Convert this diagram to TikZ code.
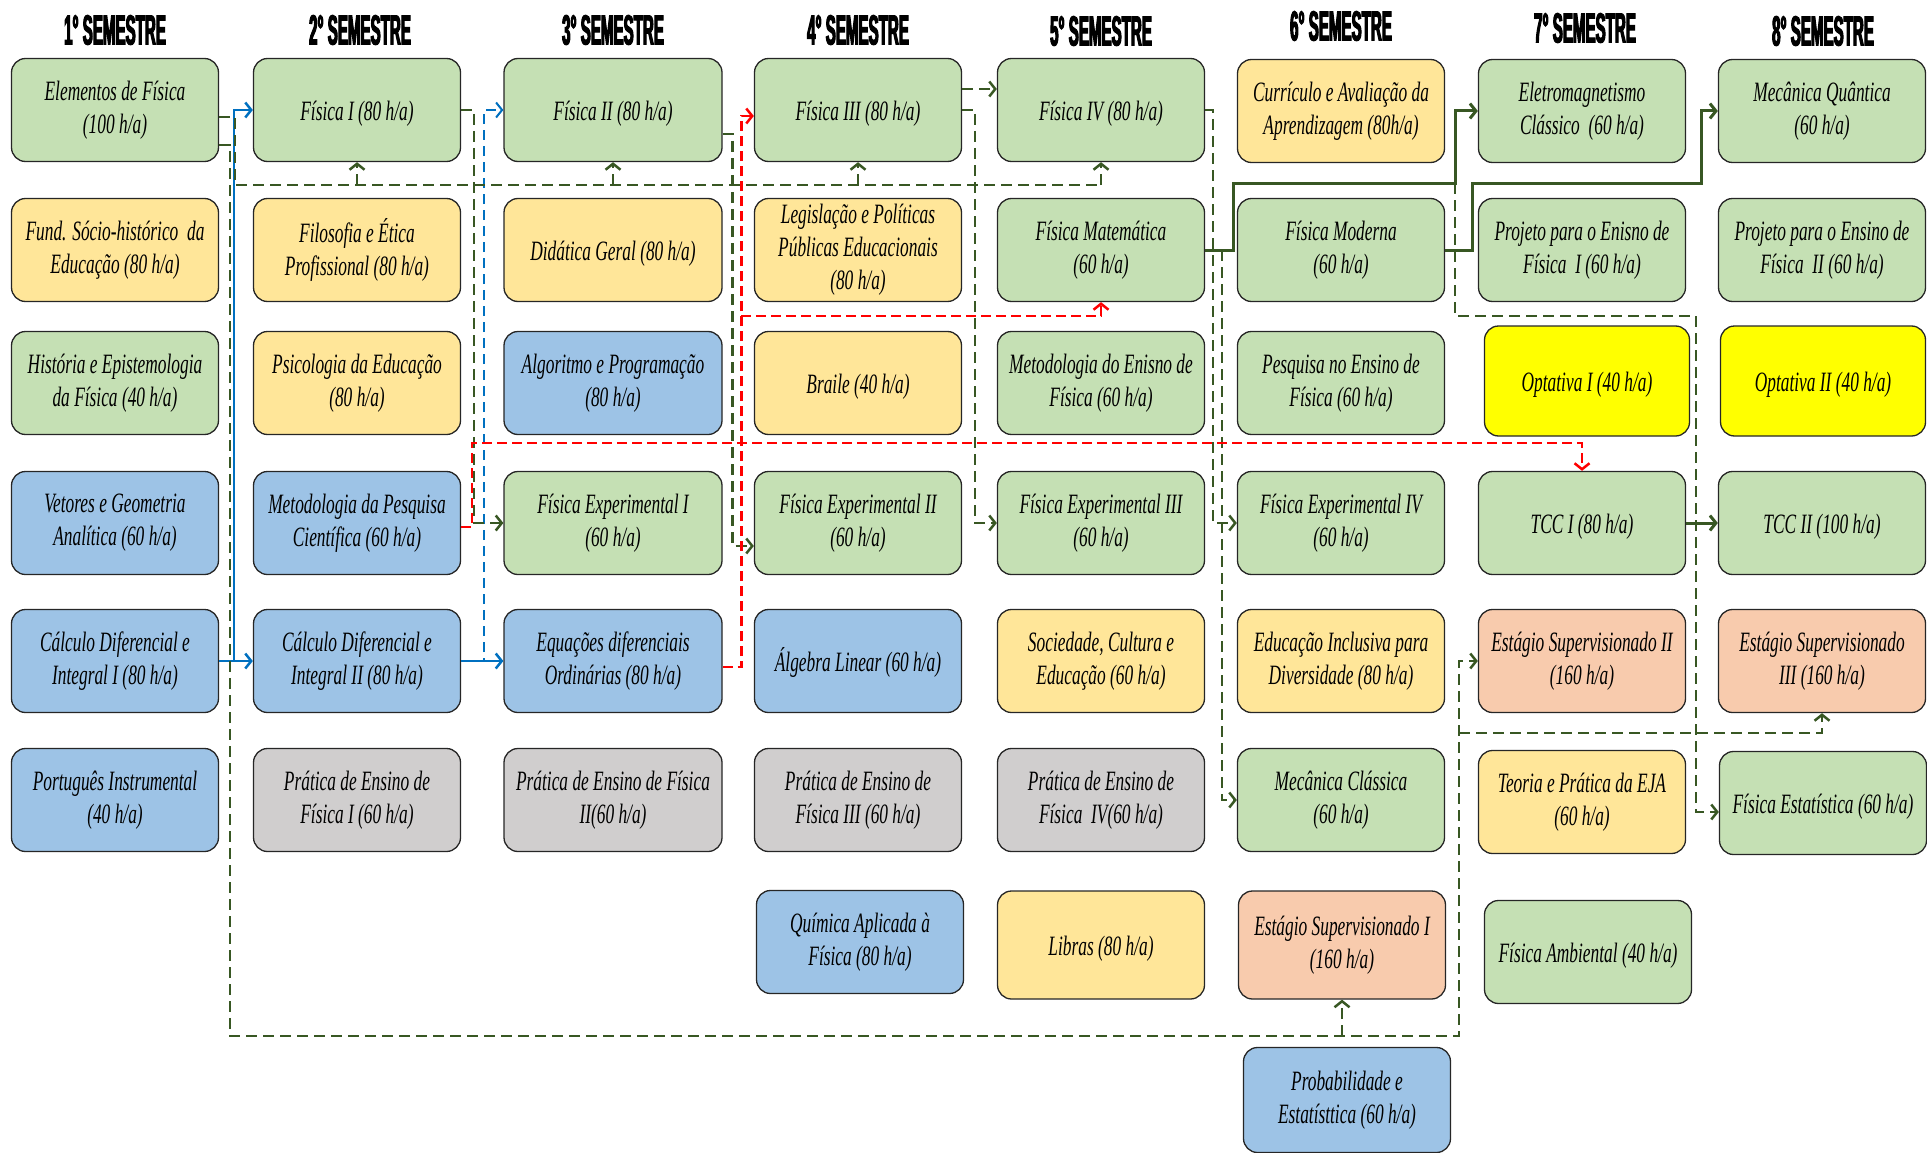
\documentclass[tikz,border=0pt]{standalone}
\usepackage{fontspec}
\setmainfont{Liberation Serif}[FakeStretch=0.62]
\newfontfamily\headfont{Liberation Sans}[FakeStretch=0.36,FakeBold=2.5]
\usetikzlibrary{arrows.meta}

\definecolor{verde}{HTML}{C5E0B4}
\definecolor{amarelo}{HTML}{FFE699}
\definecolor{azul}{HTML}{9DC3E6}
\definecolor{cinza}{HTML}{D0CECE}
\definecolor{salmao}{HTML}{F8CBAD}
\definecolor{optat}{HTML}{FFFF00}
\definecolor{linha}{HTML}{385723}
\definecolor{linhaazul}{HTML}{0070C0}

\tikzset{
  disc/.style={draw=black!85, line width=1.3pt, rounded corners=14pt,
    minimum width=207pt, minimum height=103pt, align=center, inner sep=2pt,
    font=\fontsize{28}{33}\selectfont\itshape,
    execute at begin node={\rule{0pt}{27pt}}},
  vd/.style={disc, fill=verde},
  am/.style={disc, fill=amarelo},
  az/.style={disc, fill=azul},
  cz/.style={disc, fill=cinza},
  sl/.style={disc, fill=salmao},
  op/.style={disc, fill=optat, minimum width=205pt, minimum height=110pt},
  larga/.style={minimum width=218pt},
  ponta/.style={-{Straight Barb[length=6pt,width=15pt]}},
  pre/.style={draw=linha, line width=2.5pt, dash pattern=on 11pt off 6pt, ponta},
  preS/.style={draw=linha, line width=3pt, ponta},
  blu/.style={draw=linhaazul, line width=2.5pt, ponta},
  bluD/.style={draw=linhaazul, line width=2pt, dash pattern=on 10pt off 6pt, ponta},
  verm/.style={draw=red, line width=2.5pt, dash pattern=on 10pt off 5pt, ponta}
}

\begin{document}
\begin{tikzpicture}[x=1pt,y=-1pt]
  \useasboundingbox (0,0) rectangle (1927,1153);

  \begin{scope}[every node/.style={font=\headfont\bfseries\fontsize{42}{42}\selectfont}]
    \node (10) at (115,30)  {1° SEMESTRE};
    \node (20) at (360,30)  {2° SEMESTRE};
    \node (30) at (613,30)  {3° SEMESTRE};
    \node (40) at (858,30)  {4° SEMESTRE};
    \node (50) at (1101,31) {5° SEMESTRE};
    \node (60) at (1341,26) {6° SEMESTRE};
    \node (70) at (1585,28) {7° SEMESTRE};
    \node (80) at (1823,31) {8° SEMESTRE};
  \end{scope}

  \node[vd] (11) at (115,110) {Elementos de Física\\(100 h/a)};
  \node[am] (12) at (115,250) {Fund. Sócio-histórico\ \ da\\Educação (80 h/a)};
  \node[vd] (13) at (115,383) {História e Epistemologia\\da Física (40 h/a)};
  \node[az] (14) at (115,523) {Vetores e Geometria\\Analítica (60 h/a)};
  \node[az] (15) at (115,661) {Cálculo Diferencial e\\Integral I (80 h/a)};
  \node[az] (16) at (115,800) {Português Instrumental\\(40 h/a)};

  \node[vd] (21) at (357,110) {Física I (80 h/a)};
  \node[am] (22) at (357,250) {Filosofia e Ética\\Profissional (80 h/a)};
  \node[am] (23) at (357,383) {Psicologia da Educação\\(80 h/a)};
  \node[az] (24) at (357,523) {Metodologia da Pesquisa\\Científica (60 h/a)};
  \node[az] (25) at (357,661) {Cálculo Diferencial e\\Integral II (80 h/a)};
  \node[cz] (26) at (357,800) {Prática de Ensino de\\Física I (60 h/a)};

  \node[vd,larga] (31) at (613,110) {Física II (80 h/a)};
  \node[am,larga] (32) at (613,250) {Didática Geral (80 h/a)};
  \node[az,larga] (33) at (613,383) {Algoritmo e Programação\\(80 h/a)};
  \node[vd,larga] (34) at (613,523) {Física Experimental I\\(60 h/a)};
  \node[az,larga] (35) at (613,661) {Equações diferenciais\\Ordinárias (80 h/a)};
  \node[cz,larga] (36) at (613,800) {Prática de Ensino de Física\\II(60 h/a)};

  \node[vd] (41) at (858,110) {Física III (80 h/a)};
  \node[am] (42) at (858,250) {Legislação e Políticas\\Públicas Educacionais\\(80 h/a)};
  \node[am] (43) at (858,383) {Braile (40 h/a)};
  \node[vd] (44) at (858,523) {Física Experimental II\\(60 h/a)};
  \node[az] (45) at (858,661) {Álgebra Linear (60 h/a)};
  \node[cz] (46) at (858,800) {Prática de Ensino de\\Física III (60 h/a)};
  \node[az] (47) at (860,942) {Química Aplicada à\\Física (80 h/a)};

  \node[vd] (51) at (1101,110) {Física IV (80 h/a)};
  \node[vd] (52) at (1101,250) {Física Matemática\\(60 h/a)};
  \node[vd] (53) at (1101,383) {Metodologia do Enisno de\\Física (60 h/a)};
  \node[vd] (54) at (1101,523) {Física Experimental III\\(60 h/a)};
  \node[am] (55) at (1101,661) {Sociedade, Cultura e\\Educação (60 h/a)};
  \node[cz] (56) at (1101,800) {Prática de Ensino de\\Física\ \ IV(60 h/a)};
  \node[am,minimum height=108pt] (57) at (1101,945) {Libras (80 h/a)};

  \node[am] (61) at (1341,111) {Currículo e Avaliação da\\Aprendizagem (80h/a)};
  \node[vd] (62) at (1341,250) {Física Moderna\\(60 h/a)};
  \node[vd] (63) at (1341,383) {Pesquisa no Ensino de\\Física (60 h/a)};
  \node[vd] (64) at (1341,523) {Física Experimental IV\\(60 h/a)};
  \node[am] (65) at (1341,661) {Educação Inclusiva para\\Diversidade (80 h/a)};
  \node[vd] (66) at (1341,800) {Mecânica Clássica\\(60 h/a)};
  \node[sl,minimum height=108pt] (67) at (1342,945) {Estágio Supervisionado I\\(160 h/a)};
  \node[az,minimum height=105pt] (68) at (1347,1100) {Probabilidade e\\Estatísttica (60 h/a)};

  \node[vd] (71) at (1582,111) {Eletromagnetismo\\Clássico\ \ (60 h/a)};
  \node[vd] (72) at (1582,250) {Projeto para o Enisno de\\Física\ \ I (60 h/a)};
  \node[op] (73) at (1587,381) {Optativa I (40 h/a)};
  \node[vd] (74) at (1582,523) {TCC I (80 h/a)};
  \node[sl] (75) at (1582,661) {Estágio Supervisionado II\\(160 h/a)};
  \node[am] (76) at (1582,802) {Teoria e Prática da EJA\\(60 h/a)};
  \node[vd] (77) at (1588,952) {Física Ambiental (40 h/a)};

  \node[vd] (81) at (1822,111) {Mecânica Quântica\\(60 h/a)};
  \node[vd] (82) at (1822,250) {Projeto para o Ensino de\\Física\ \ II (60 h/a)};
  \node[op] (83) at (1823,381) {Optativa II (40 h/a)};
  \node[vd] (84) at (1822,523) {TCC II (100 h/a)};
  \node[sl] (85) at (1822,661) {Estágio Supervisionado\\III (160 h/a)};
  \node[vd] (86) at (1823,803) {Física Estatística (60 h/a)};

  \coordinate (b1) at (235,185);
  \coordinate (b2) at (230,1036);
  \coordinate (b3) at (1459,1036);
  \coordinate (b4) at (1459,733);
  \coordinate (j1) at (1455,183);
  \coordinate (r1) at (472,443);
  \coordinate (r2) at (741,316);

  \draw[blu] (15.east) -- (25.west);
  \draw[blu] (15.east) -- ++(15,0) |- (21.west);
  \draw[blu] (25.east) -- (35.west);
  \draw[bluD] (25.east) -- ++(23,0) |- (31.west);

  \draw[pre,-] ([yshift=-7pt]11.east) -| (b1) -- (b1 -| 51.south);
  \foreach \n in {21,31,41,51}
    \draw[pre] (b1 -| \n.south) -- (\n.south);
  \draw[pre] (21.east) -- ++(13,0) |- (34.west);
  \draw[pre] ([yshift=-24pt]31.east) -- ++(10,0) |- ([yshift=-23pt]44.west);
  \draw[pre] ([yshift=21pt]41.east) -- ([yshift=21pt]51.west);
  \draw[pre] (41.east) -- ++(13,0) |- (54.west);
  \draw[pre] (51.east) -- ++(8,0) |- (64.west);
  \draw[pre] (52.east) -- ++(17,0) |- (66.west);
  \draw[pre] (j1) |- (1696,316) |- ([yshift=-9pt]86.west);
  \draw[pre] ([yshift=-35pt]11.east) -| (b2) -- (b3) |- (75.west);
  \draw[pre] (b2 -| 67.south) -- (67.south);
  \draw[pre] (b4) -| (85.south);

  \draw[preS] (52.east) -- ++(28,0) |- (j1) |- (71.west);
  \draw[preS] (62.east) -- ++(27,0) |- (1701,183) |- (81.west);
  \draw[preS] (74.east) -- (84.west);

  \draw[verm] ([yshift=-4pt]24.east) -| (r1) -| (74.north);
  \draw[verm] ([yshift=-6pt]35.east) -- ++(19,0) |- ([yshift=-6pt]41.west);
  \draw[verm] (r2) -| (52.south);

\end{tikzpicture}
\end{document}
